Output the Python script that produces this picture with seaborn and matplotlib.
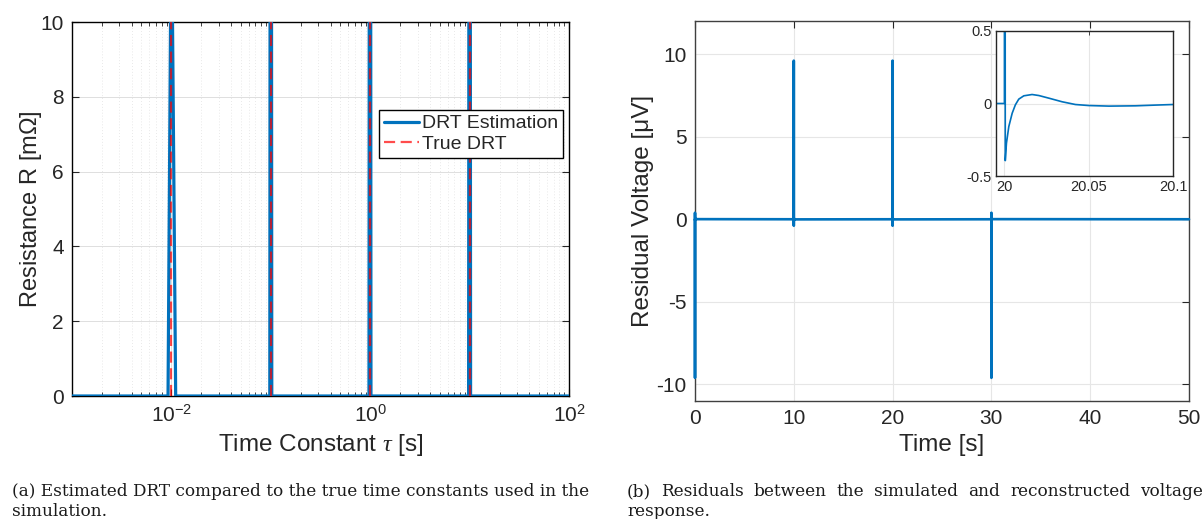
import numpy as np
import pandas as pd
import matplotlib
matplotlib.use("Agg")
import matplotlib.pyplot as plt
import matplotlib.ticker as mticker
import seaborn as sns

# ---------------- data ----------------
# (a) DRT estimation (log-spaced tau grid points that carry the peaks)
est_tau = [1e-3, 0.00925, 0.0100, 0.01104, 0.0977, 0.1000, 0.1023,
           0.972, 0.995, 1.018, 9.77, 10.0, 10.23, 1e2]
est_R = [0, 0, 13.5, 0, 0, 40, 0, 0, 40, 0, 0, 40, 0, 0]
# true time constants (drawn as vertical spikes)
true_tau = [0.01, 0.1, 1.0, 10.0]
true_R = [100, 100, 100, 100]

# (b) residual voltage: current steps and the residual response after each step
step_times = [0, 10, 20, 30]
step_signs = [-1, 1, 1, -1]
spike_peak = 9.6
resp_offsets = [0.0005, 0.0012, 0.0026, 0.0046, 0.0065, 0.0085, 0.0115, 0.0164,
                0.0204, 0.0263, 0.0342, 0.0421, 0.0500, 0.0620, 0.0777, 0.0896, 0.1000]
resp_values = [-0.394, -0.274, -0.159, -0.067, -0.009, 0.030, 0.053, 0.062,
               0.055, 0.037, 0.012, -0.007, -0.014, -0.018, -0.016, -0.011, -0.007]
t_end = 50

captions_a = ["(a) Estimated DRT compared to the true time constants used in the", "simulation."]
captions_b = ["(b) Residuals between the simulated and reconstructed voltage", "response."]

# ---------------- build tables ----------------
df_est = pd.DataFrame({"tau": est_tau, "R": est_R})

t_list, v_list = [], []
for tk, s in zip(step_times, step_signs):
    t_list += [tk, tk]
    v_list += [0.0, s * spike_peak]
    t_list += [tk + o for o in resp_offsets]
    v_list += [s * v for v in resp_values]
t_list.append(t_end)
v_list.append(0.0)
df_res = pd.DataFrame({"t": t_list, "v": v_list})

# ---------------- style ----------------
sns.set_theme(style="white")
plt.rcParams["font.family"] = ["Liberation Sans", "DejaVu Sans"]
plt.rcParams["mathtext.fontset"] = "custom"
plt.rcParams["mathtext.rm"] = "Liberation Sans"
plt.rcParams["mathtext.it"] = "Liberation Serif:italic"
plt.rcParams["mathtext.bf"] = "Liberation Sans:bold"
plt.rcParams["axes.unicode_minus"] = False

BLUE = "#0072BD"
W, H = 1204, 519
fig = plt.figure(figsize=(W / 100, H / 100), dpi=100)
fig.patch.set_facecolor("white")

def frac_box(x0, y0, x1, y1):
    return [x0 / W, 1 - y1 / H, (x1 - x0) / W, (y1 - y0) / H]

# ---------------- (a) ----------------
ax1 = fig.add_axes(frac_box(72, 22, 569, 396))
ax1.set_axisbelow(True)
sns.lineplot(data=df_est, x="tau", y="R", ax=ax1, color=BLUE, lw=2.3,
             estimator=None, sort=False, label="DRT Estimation", zorder=3)
for i, (tt, rr) in enumerate(zip(true_tau, true_R)):
    d = pd.DataFrame({"tau": [tt, tt], "R": [0, rr]})
    sns.lineplot(data=d, x="tau", y="R", ax=ax1, color="red", alpha=0.7, lw=1.6,
                 linestyle=(0, (5, 2.5)), estimator=None, sort=False,
                 label="True DRT" if i == 0 else None, zorder=4)
ax1.set_xscale("log")
ax1.set_xlim(1e-3, 1e2)
ax1.set_ylim(0, 10)
ax1.xaxis.set_major_locator(mticker.FixedLocator([1e-2, 1e0, 1e2]))
ax1.xaxis.set_major_formatter(mticker.LogFormatterSciNotation())
minors = []
for dec in range(-3, 2):
    for m in range(1, 10):
        v = m * 10.0 ** dec
        if v not in (1e-2, 1e0, 1e2):
            minors.append(v)
ax1.xaxis.set_minor_locator(mticker.FixedLocator(minors))
ax1.xaxis.set_minor_formatter(mticker.NullFormatter())
ax1.set_yticks([0, 2, 4, 6, 8, 10])
ax1.grid(True, which="major", color="#dedede", lw=0.7)
ax1.grid(True, which="minor", axis="x", color="#e2e2e2", lw=0.6, ls=(0, (1, 2.5)))
ax1.tick_params(which="both", direction="in", top=True, right=True, bottom=True, left=True,
                labelsize=15, color="#262626", pad=6)
ax1.tick_params(which="major", length=5, width=0.8)
ax1.tick_params(which="minor", length=3, width=0.6)
for sp in ax1.spines.values():
    sp.set_color("#000000")
    sp.set_linewidth(1.0)
ax1.set_xlabel(r"Time Constant $\tau$ [s]", fontsize=17.5, labelpad=4)
ax1.set_ylabel(r"Resistance R [m$\Omega$]", fontsize=17, labelpad=-3)
leg = ax1.legend(loc="upper right", bbox_to_anchor=(0.988, 0.765), fontsize=14,
                 frameon=True, fancybox=False, edgecolor="black", framealpha=1,
                 handlelength=1.8, handletextpad=0.15, borderpad=0.25,
                 labelspacing=0.15, borderaxespad=0)
leg.get_frame().set_linewidth(1.0)

# ---------------- (b) ----------------
ax2 = fig.add_axes(frac_box(695, 21, 1189, 401))
ax2.set_axisbelow(True)
sns.lineplot(data=df_res, x="t", y="v", ax=ax2, color=BLUE, lw=1.9,
             estimator=None, sort=False, zorder=3, clip_on=False)
ax2.set_xlim(0, 50)
ax2.set_ylim(-11, 12)
ax2.set_xticks([0, 10, 20, 30, 40, 50])
ax2.set_yticks([-10, -5, 0, 5, 10])
ax2.grid(True, color="#e6e6e6", lw=0.8)
ax2.tick_params(direction="in", top=True, right=True, labelsize=15, length=5,
                width=0.8, color="#262626", pad=6)
for sp in ax2.spines.values():
    sp.set_color("#404040")
    sp.set_linewidth(1.0)
ax2.set_xlabel("Time [s]", fontsize=17.5, labelpad=4)
ax2.set_ylabel("Residual Voltage [μV]", fontsize=17.5, labelpad=2)

# inset
ax3 = fig.add_axes(frac_box(996, 31, 1173, 176))
ax3.set_axisbelow(True)
sns.lineplot(data=df_res, x="t", y="v", ax=ax3, color=BLUE, lw=1.2,
             estimator=None, sort=False)
ax3.set_xlim(19.995, 20.1)
ax3.set_ylim(-0.5, 0.5)
ax3.set_xticks([20, 20.05, 20.1])
ax3.set_xticklabels(["20", "20.05", "20.1"])
ax3.set_yticks([-0.5, 0, 0.5])
ax3.set_yticklabels(["-0.5", "0", "0.5"])
ax3.grid(True, color="#e6e6e6", lw=0.8)
ax3.tick_params(direction="in", top=True, right=True, labelsize=10.5, length=3,
                width=0.6, color="#262626", pad=3)
ax3.set_xlabel("")
ax3.set_ylabel("")
for sp in ax3.spines.values():
    sp.set_color("#262626")
    sp.set_linewidth(1.0)

# ---------------- captions ----------------
renderer = fig.canvas.get_renderer()
CAP_FAMILY = ["DejaVu Serif"]

# fit the font size so that caption (a) line 1 spans its natural width
probe = fig.text(0, 0, captions_a[0], fontsize=10, family=CAP_FAMILY)
natural = probe.get_window_extent(renderer).width
probe.remove()
cap_fs = 10 * (588 - 12) / natural
CAP = dict(fontsize=cap_fs, family=CAP_FAMILY, color="#1a1a1a", va="baseline")

def justified(words_line, x0, x1, ybase):
    words = words_line.split(" ")
    texts = [fig.text(0, 1 - ybase / H, w, **CAP) for w in words]
    widths = [t.get_window_extent(renderer).width for t in texts]
    gap = (x1 - x0 - sum(widths)) / (len(words) - 1)
    x = x0
    for t, w in zip(texts, widths):
        t.set_x(x / W)
        x += w + gap

fig.text(12 / W, 1 - 496 / H, captions_a[0], **CAP)
fig.text(12 / W, 1 - 516 / H, captions_a[1], **CAP)
justified(captions_b[0], 627, 1203, 496)
fig.text(627 / W, 1 - 516 / H, captions_b[1], **CAP)

fig.savefig("out.png", dpi=100, facecolor="white")
